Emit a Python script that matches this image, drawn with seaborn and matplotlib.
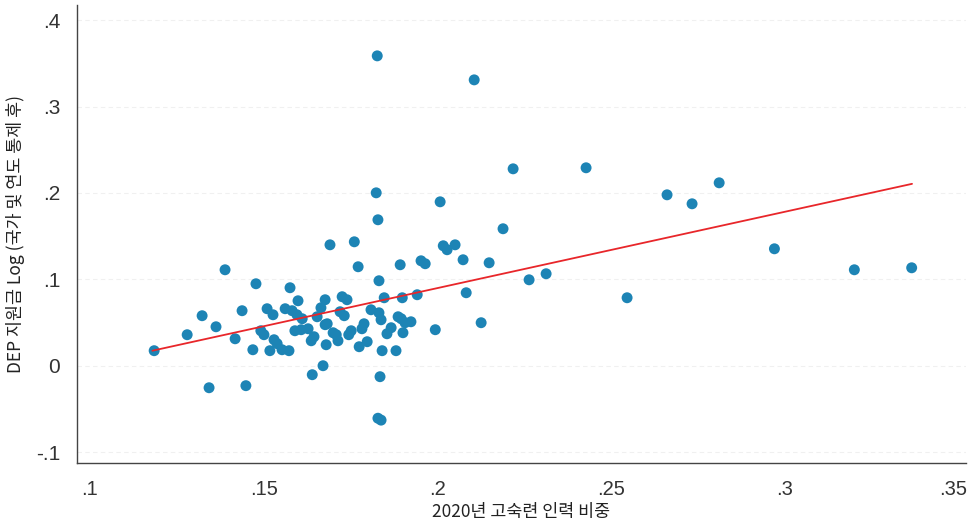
import numpy as np
import pandas as pd
import matplotlib
matplotlib.use("Agg")
import matplotlib.pyplot as plt
import matplotlib.transforms as mtransforms
import seaborn as sns

# share of high-skill workforce (2020) and DEP subsidy log residual
skill_share = [
    0.1185, 0.1280, 0.1323, 0.1363, 0.1389, 0.1343, 0.1418, 0.1438, 0.1449, 0.1469,
    0.1478, 0.1492, 0.1501, 0.1510, 0.1527, 0.1518, 0.1530, 0.1539, 0.1553, 0.1573,
    0.1562, 0.1576, 0.1582, 0.1590, 0.1599, 0.1611, 0.1628, 0.1640, 0.1645, 0.1654,
    0.1665, 0.1677, 0.1677, 0.1683, 0.1680, 0.1671, 0.1691, 0.1700, 0.1709, 0.1714,
    0.1720, 0.1726, 0.1740, 0.1732, 0.1752, 0.1761, 0.1772, 0.1775, 0.1783, 0.1789,
    0.1798, 0.1809, 0.1832, 0.1832, 0.1838, 0.1841, 0.1847, 0.1855, 0.1867, 0.1835,
    0.1829, 0.1838, 0.1824, 0.1829, 0.1827, 0.1881, 0.1887, 0.1896, 0.1901, 0.1907,
    0.1924, 0.1893, 0.1899, 0.1942, 0.1953, 0.1965, 0.1994, 0.2008, 0.2017, 0.2028,
    0.2051, 0.2074, 0.2083, 0.2106, 0.2126, 0.2149, 0.2189, 0.2218, 0.2264, 0.2313,
    0.2428, 0.2546, 0.2661, 0.2733, 0.2811, 0.2970, 0.3200, 0.3365,
    0.1596, 0.1608, 0.1637, 0.1745,
]
dep_log = [
    0.0174, 0.0359, 0.0579, 0.0451, 0.1111, -0.0255, 0.0312, 0.0637, -0.0231, 0.0185,
    0.0949, 0.0405, 0.0359, 0.0660, 0.0590, 0.0174, 0.0301, 0.0255, 0.0185, 0.0174,
    0.0660, 0.0903, 0.0637, 0.0405, 0.0752, 0.0544, 0.0428, -0.0104, 0.0336, 0.0567,
    0.0671, 0.0764, 0.0475, 0.0486, 0.0243, 0.0000, 0.1400, 0.0382, 0.0359, 0.0289,
    0.0625, 0.0799, 0.0764, 0.0579, 0.0405, 0.1435, 0.1146, 0.0220, 0.0428, 0.0486,
    0.0278, 0.0648, 0.0984, 0.0613, 0.0532, 0.0174, 0.0787, 0.0370, 0.0440, -0.0127,
    -0.0608, -0.0630, 0.2002, 0.1690, 0.3588, 0.0174, 0.0567, 0.0544, 0.0382, 0.0498,
    0.0509, 0.1169, 0.0787, 0.0822, 0.1215, 0.1181, 0.0417, 0.1898, 0.1389, 0.1343,
    0.1400, 0.1227, 0.0845, 0.3310, 0.0498, 0.1192, 0.1586, 0.2280, 0.0995, 0.1065,
    0.2292, 0.0787, 0.1979, 0.1875, 0.2118, 0.1354, 0.1111, 0.1134,
    0.0590, 0.0417, 0.0289, 0.0359,
]

# fitted line endpoints
fit_x = [0.1180, 0.3366]
fit_y = [0.0174, 0.2106]

x_ticks = [0.1, 0.15, 0.2, 0.25, 0.3, 0.35]
x_tick_labels = [".1", ".15", ".2", ".25", ".3", ".35"]
y_ticks = [-0.1, 0, 0.1, 0.2, 0.3, 0.4]
y_tick_labels = ["-.1", "0", ".1", ".2", ".3", ".4"]

df = pd.DataFrame({"share": skill_share, "dep": dep_log})

sns.set_style("white")
plt.rcParams["font.family"] = ["Noto Sans CJK KR", "DejaVu Sans"]
tick_font = ["Liberation Sans", "DejaVu Sans"]

fig = plt.figure(figsize=(9.7, 5.25), dpi=100)
ax = fig.add_axes([0.0794, 0.118, 0.916, 0.872])

for yv in y_ticks:
    ax.axhline(yv, color="#f0f0f0", lw=0.8, ls=(0, (4, 3)), zorder=0)

sns.scatterplot(data=df, x="share", y="dep", ax=ax, s=62, color="#1d84b5",
                edgecolor="none", linewidth=0, zorder=3)
ax.plot(fit_x, fit_y, color="#e8262a", lw=1.3, zorder=4)

ax.set_xlim(0.0963, 0.352)
ax.set_ylim(-0.1127, 0.4174)
ax.set_xticks(x_ticks)
ax.set_xticklabels(x_tick_labels, fontsize=14.5, color="#333333", family=tick_font)
ax.set_yticks(y_ticks)
ax.set_yticklabels(y_tick_labels, fontsize=15, color="#333333", family=tick_font)
ax.tick_params(axis="both", direction="out", length=6, width=0.8, color="#555555", pad=6)

# nudge the last x label so it stays inside the canvas
last = ax.get_xticklabels()[-1]
last.set_transform(last.get_transform() + mtransforms.ScaledTranslation(-5 / 100, 0, fig.dpi_scale_trans))

ax.set_xlabel("2020년 고숙련 인력 비중", fontsize=12.5, color="#222222", labelpad=3)
ax.set_ylabel("DEP 지원금 Log (국가 및 연도 통제 후)", fontsize=12.5, color="#222222", labelpad=8)

for side in ["top", "right"]:
    ax.spines[side].set_visible(False)
for side in ["left", "bottom"]:
    ax.spines[side].set_color("#444444")
    ax.spines[side].set_linewidth(1.0)

fig.savefig("out.png", dpi=100)
